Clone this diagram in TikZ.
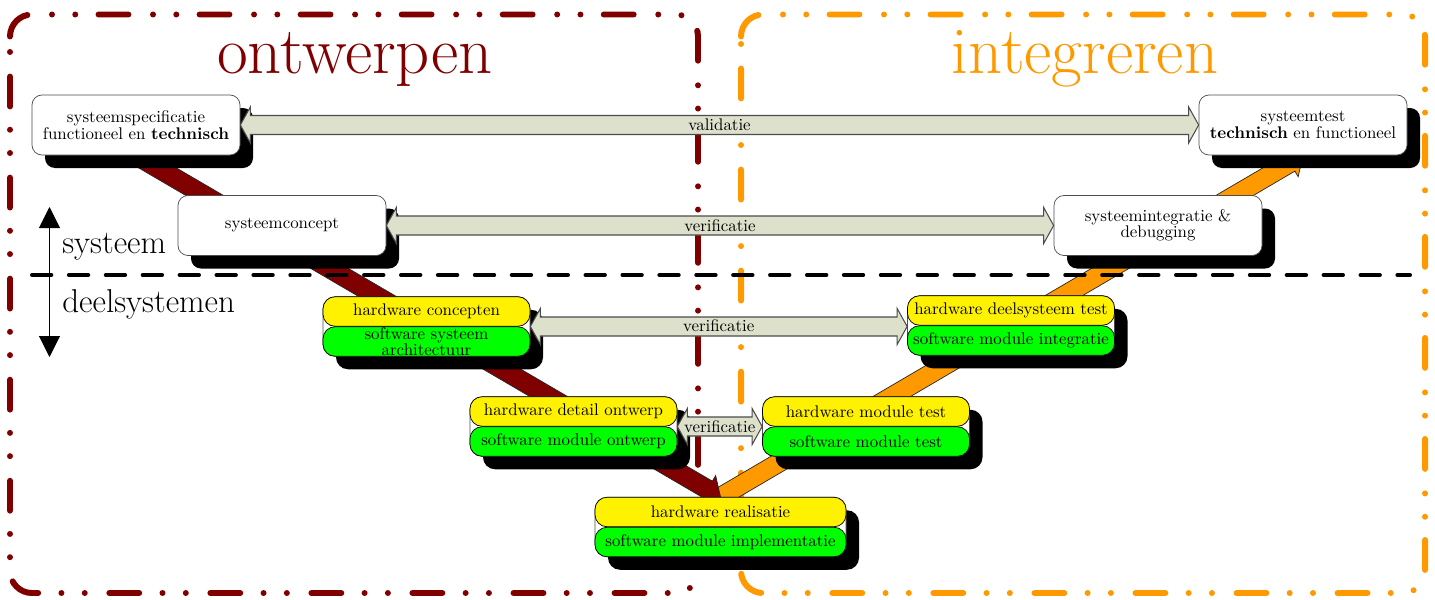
\documentclass[tikz,border=0pt]{standalone}
\usetikzlibrary{calc,shadows,arrows.meta}

\definecolor{ontwerpred}{RGB}{128,0,0}
\definecolor{integorange}{RGB}{255,153,0}
\definecolor{pijlgrijs}{RGB}{221,224,203}
\newcommand{\boxfont}{\fontsize{9.6}{9.3}\selectfont}

\pgfdeclarelayer{achter}
\pgfsetlayers{achter,main}

\tikzset{
  kader/.style={line width=3.4pt, line cap=round, rounded corners=0.44cm,
    dash pattern=on 17pt off 14pt on 0pt off 13.25pt on 0pt off 13.25pt},
  fase/.style={draw=black!85, line width=0.4pt, line join=miter},
  blok/.style={draw=black!70, fill=white, rounded corners=0.2cm,
    minimum width=4.16cm, minimum height=1.2cm, align=center, font=\boxfont,
    drop shadow={shadow xshift=0.26cm, shadow yshift=-0.26cm, opacity=1, fill=black}},
  dubbel/.style={blok, rounded corners=0.24cm, minimum width=4.14cm, minimum height=1.19cm},
  hwblok/.style={draw=black, fill=yellow, rounded corners=0.24cm,
    minimum width=4.14cm, minimum height=0.59cm, inner sep=0pt, font=\boxfont},
  swblok/.style={hwblok, fill=green},
  pijl/.style={draw=black!70, fill=pijlgrijs, line width=0.6pt},
  pijltekst/.style={font=\boxfont, inner sep=1pt},
  titel/.style={font=\fontsize{38}{44}\selectfont, anchor=base},
  niveau/.style={font=\fontsize{18.8}{22}\selectfont, anchor=base west, inner sep=0pt},
}

% dikke dubbele pijl tussen twee blokken
\newcommand{\fatlink}[3]{%
  \draw[pijl] let \p1=(#1.east), \p2=(#2.west) in
    (\x1,\y1) -- ++(0.2,0.36) -- ++(0,-0.17) -- (\x2-0.2cm,\y1+0.19cm) -- ++(0,0.17)
    -- (\x2,\y1) -- ++(-0.2,-0.36) -- ++(0,0.17) -- (\x1+0.2cm,\y1-0.19cm) -- ++(0,-0.17) -- cycle;
  \path (#1.east) -- (#2.west) node[midway, pijltekst] {#3};}

% brede pijl van de V
\newcommand{\band}[3]{%
  \draw[fase, fill=#3] let \p1=(#1), \p2=(#2), \n1={atan2(\y2-\y1,\x2-\x1)} in
    ($(\p1)+({\n1+90}:0.19cm)$)
    -- ($(\p2)+({\n1+180}:0.3cm)+({\n1+90}:0.19cm)$)
    -- ($(\p2)+({\n1+180}:0.3cm)+({\n1+90}:0.32cm)$)
    -- (\p2)
    -- ($(\p2)+({\n1+180}:0.3cm)+({\n1-90}:0.32cm)$)
    -- ($(\p2)+({\n1+180}:0.3cm)+({\n1-90}:0.19cm)$)
    -- ($(\p1)+({\n1-90}:0.19cm)$) -- cycle;}

\begin{document}
\begin{tikzpicture}
  \useasboundingbox (0,0) rectangle (28.7,-11.98);
  %\draw[help lines] (0,0) grid (28,-12);

  % blokken
  \node[blok] (spec) at (2.72,-2.5) {systeemspecificatie\\functioneel en \textbf{technisch}};
  \node[blok] (stest) at (26.06,-2.5) {systeemtest\\\textbf{technisch} en functioneel};
  \node[blok] (concept) at (5.64,-4.51) {systeemconcept};
  \node[blok] (integ) at (23.16,-4.51) {systeemintegratie \&\\debugging};

  \node[dubbel] (hwc) at (8.53,-6.53) {};
  \node[hwblok, anchor=north] at (hwc.north) {hardware concepten};
  \node[swblok, anchor=south, label={[font=\boxfont, align=center, inner sep=0pt]center:{software systeem\\architectuur}}] at (hwc.south) {};

  \node[dubbel] (hwdt) at (20.22,-6.51) {};
  \node[hwblok, anchor=north] at (hwdt.north) {hardware deelsysteem test};
  \node[swblok, anchor=south] at (hwdt.south) {software module integratie};

  \node[dubbel] (hwdo) at (11.47,-8.53) {};
  \node[hwblok, anchor=north] at (hwdo.north) {hardware detail ontwerp};
  \node[swblok, anchor=south] at (hwdo.south) {software module ontwerp};

  \node[dubbel] (hwmt) at (17.32,-8.53) {};
  \node[hwblok, anchor=north] at (hwmt.north) {hardware module test};
  \node[swblok, anchor=south] at (hwmt.south) {software module test};

  \node[dubbel, minimum width=5.02cm] (real) at (14.41,-10.54) {};
  \node[hwblok, minimum width=5.02cm, anchor=north] at (real.north) {hardware realisatie};
  \node[swblok, minimum width=5.02cm, anchor=south] at (real.south) {software module implementatie};

  % kaders en V achter de blokken
  \begin{pgfonlayer}{achter}
    \draw[kader, ontwerpred] (0.2,-0.73) -- (0.2,-0.29) -- (13.96,-0.29) -- (13.96,-11.86) -- (0.2,-11.86) -- (0.2,-0.73);
    \draw[kader, integorange] (14.82,-0.73) -- (14.82,-0.29) -- (28.5,-0.29) -- (28.5,-11.86) -- (14.82,-11.86) -- (14.82,-0.73);
    \band{real.north}{stest.south}{integorange}
    \band{spec.south}{real.north}{ontwerpred}
  \end{pgfonlayer}

  % validatie en verificatie
  \fatlink{spec}{stest}{validatie}
  \fatlink{concept}{integ}{verificatie}
  \fatlink{hwc}{hwdt}{verificatie}
  \fatlink{hwdo}{hwmt}{verificatie}

  % titels
  \node[titel, ontwerpred] (ontw) at (7.1,-1.46) {ontwerpen};
  \node[titel, integorange] (intgr) at (21.7,-1.46) {integreren};

  % systeem / deelsystemen
  \draw[line width=2.3pt, dash pattern=on 11pt off 10pt, line cap=round] (0.64,-5.5) -- (28.2,-5.5);
  \coordinate (boven) at (0.99,-4.14);
  \coordinate (onder) at (0.99,-7.14);
  \draw[{Triangle[length=0.42cm,width=0.42cm]}-{Triangle[length=0.42cm,width=0.42cm]}, line width=0.6pt] (boven) -- (onder);
  \node[niveau] (sys) at (1.24,-5.06) {systeem};
  \node[niveau] (dsys) at (1.24,-6.24) {deelsystemen};
\end{tikzpicture}
\end{document}
